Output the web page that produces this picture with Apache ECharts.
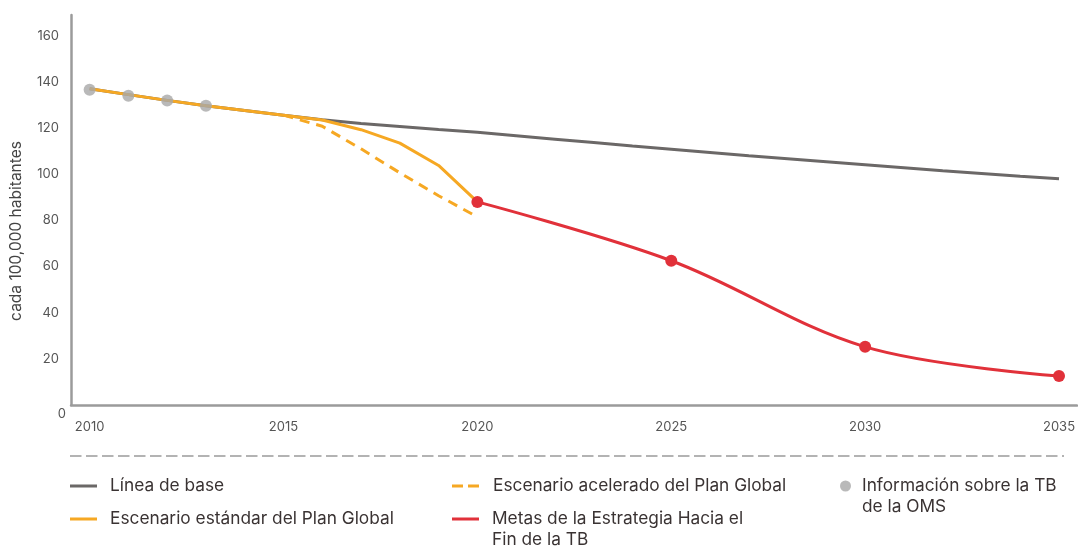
<!DOCTYPE html>
<html>
<head>
<meta charset="utf-8">
<script src="https://cdn.jsdelivr.net/npm/echarts@6/dist/echarts.min.js"></script>
<style>
  html, body { margin: 0; padding: 0; background: #fff; }
  #chart { width: 1078px; height: 556px; }
</style>
</head>
<body>
<div id="chart"></div>
<script>
// 年份
var years = [2010, 2011, 2012, 2013, 2014, 2015, 2016, 2017, 2018, 2019, 2020, 2021, 2022,
    2023, 2024, 2025, 2026, 2027, 2028, 2029, 2030, 2031, 2032, 2033, 2034, 2035];
// 基线
var baseline = [137, 134.5, 132, 129.7, 127.6, 125.6, 123.6, 122, 120.7, 119.4, 118.2, 116.7, 115.2,
    113.7, 112.2, 110.8, 109.4, 108, 106.7, 105.4, 104.1, 102.8, 101.5, 100.3, 99.1, 98];
// 标准方案 2010-2020
var stdYears = [2010, 2011, 2012, 2013, 2014, 2015, 2016, 2017, 2018, 2019, 2020];
var standard = [137, 134.5, 132, 129.7, 127.6, 125.6, 123.5, 119.3, 113.5, 103.8, 88];
// 加速方案 2015-2020
var accYears = [2015, 2016, 2017, 2018, 2019, 2020];
var accelerated = [125.6, 120.8, 111, 100.6, 90.7, 81.5];
// 终结结核目标
var goalYears = [2020, 2025, 2030, 2035];
var goals = [88, 62.5, 25.2, 12.6];
// 世卫数据
var whoYears = [2010, 2011, 2012, 2013];
var whoData = [136.6, 134, 131.9, 129.7];

var xTicks = [2010, 2015, 2020, 2025, 2030, 2035];
var yTicks = [0, 20, 40, 60, 80, 100, 120, 140, 160];

var names = {
    base: 'Línea de base',
    std: 'Escenario estándar del Plan Global',
    acc: 'Escenario acelerado del Plan Global',
    goal: 'Metas de la Estrategia Hacia el\nFin de la TB',
    who: 'Información sobre la TB\nde la OMS'
};

function pairs(xs, ys) {
    return xs.map(function (x, i) { return [x, ys[i]]; });
}

var FONT = 'Inter, "Noto Sans", sans-serif';
var legendText = { fontFamily: FONT, fontSize: 17.3, color: '#3a3333', lineHeight: 21 };

// 图例图标
var lineIcon = 'path://M0,0H27V3H0Z M34.9,0H35V0.1H34.9Z';
var dashIcon = 'path://M0,0H11V3H0Z M16,0H27V3H16Z M35.9,0H36V0.1H35.9Z';
var line2Icon = 'path://M0,0H27V3H0Z M34.9,23.9H35V24H34.9Z';
var dotIcon = 'path://M0,5.5A5.5,5.5 0 1 1 11,5.5A5.5,5.5 0 1 1 0,5.5Z M16.9,31.9H17V32H16.9Z';

function legend(name, icon, left, top, w, h) {
    return {
        data: [{ name: name, icon: icon }],
        left: left, top: top, padding: 0,
        itemWidth: w, itemHeight: h,
        selectedMode: false,
        textStyle: legendText,
        itemStyle: { borderWidth: 0 }
    };
}

var chart = echarts.init(document.getElementById('chart'));

var option = {
    animation: false,
    textStyle: { fontFamily: FONT },
    grid: { left: 68, right: 0, top: 15, bottom: 151 },
    xAxis: {
        type: 'value',
        min: 2009.52,
        max: 2035.46,
        splitLine: { show: false },
        axisTick: { show: false },
        axisLine: { lineStyle: { color: '#9b9b9b', width: 2.5 } },
        axisLabel: {
            customValues: xTicks,
            color: '#555',
            fontSize: 13,
            margin: 16,
            formatter: function (v) { return String(v); }
        }
    },
    yAxis: {
        type: 'value',
        min: 0,
        max: 169,
        name: 'cada 100,000 habitantes',
        nameLocation: 'middle',
        nameRotate: 90,
        nameGap: 47,
        nameTextStyle: { fontSize: 15.5, color: '#444', padding: [0, 42, 0, 0] },
        splitLine: { show: false },
        axisTick: { show: false },
        axisLine: { show: true, lineStyle: { color: '#9b9b9b', width: 2.5 } },
        axisLabel: {
            customValues: yTicks,
            color: '#555',
            fontSize: 13,
            margin: 12,
            formatter: function (v) { return v === 0 ? '{z|0}' : String(v); },
            rich: { z: { fontSize: 13, color: '#555', padding: [19, -7, 0, 0] } }
        }
    },
    legend: [
        legend(names.base, lineIcon, 70, 475.5, 35, 3),
        legend(names.std, lineIcon, 70, 508.5, 35, 3),
        legend(names.acc, dashIcon, 452, 475.5, 36, 3),
        legend(names.goal, line2Icon, 452, 508.5, 35, 24),
        legend(names.who, dotIcon, 840, 475.5, 17, 32)
    ],
    graphic: [{
        type: 'line',
        shape: { x1: 70, y1: 456, x2: 1064, y2: 456 },
        style: { stroke: '#9a9a9a', lineWidth: 1.3, lineDash: [11.5, 4.5] },
        silent: true
    }],
    series: [
        {
            name: names.base, type: 'line', data: pairs(years, baseline),
            showSymbol: false, symbol: 'none', z: 2,
            color: '#6b6867',
            lineStyle: { color: '#6b6867', width: 3 }
        },
        {
            name: names.acc, type: 'line', data: pairs(accYears, accelerated),
            showSymbol: false, symbol: 'none', z: 3,
            color: '#f6a823',
            lineStyle: { color: '#f6a823', width: 3, type: [10, 7] }
        },
        {
            name: names.std, type: 'line', data: pairs(stdYears, standard),
            showSymbol: false, symbol: 'none', z: 4,
            color: '#f6a823',
            lineStyle: { color: '#f6a823', width: 3 }
        },
        {
            name: names.goal, type: 'line', data: pairs(goalYears, goals),
            smooth: 0.35, symbol: 'circle', symbolSize: 12, z: 5,
            color: '#e1313a',
            itemStyle: { color: '#e1313a' },
            lineStyle: { color: '#e1313a', width: 3 }
        },
        {
            name: names.who, type: 'scatter', data: pairs(whoYears, whoData),
            symbol: 'circle', symbolSize: 12, z: 6,
            color: '#a8a8a8',
            itemStyle: { color: '#a8a8a8' }
        }
    ]
};

chart.setOption(option);
</script>
</body>
</html>
